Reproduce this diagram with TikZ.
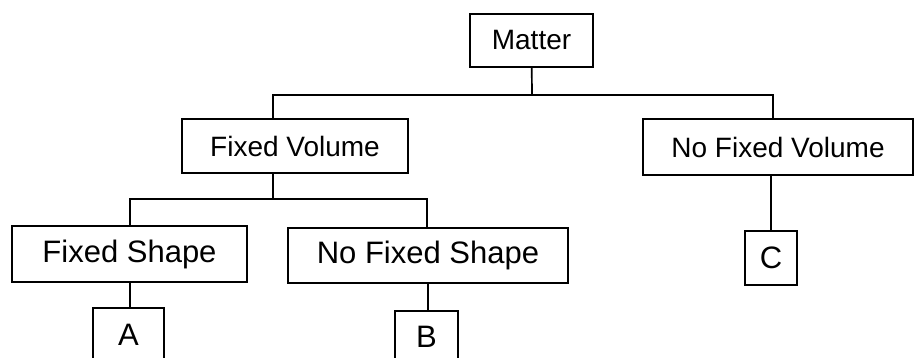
\documentclass[tikz,border=0pt]{standalone}
\usepackage{fontspec}
\setmainfont{Liberation Sans}
\tikzset{
    box/.style={draw, line width=1.7pt, inner sep=0pt, align=center},
    upper/.style={font=\fontsize{28}{32}\selectfont},
    lower/.style={font=\fontsize{31}{36}\selectfont}
}
\begin{document}
\begin{tikzpicture}[x=1pt,y=-1pt,line width=1.7pt]
    \clip (0,0) rectangle (914,358);%裁出与原图相同的边界
    \node[box,upper,minimum width=123pt,minimum height=53pt] (matter) at (531.5,40.5) {Matter};
    \node[box,upper,minimum width=226pt,minimum height=54pt] (fixvol) at (295,146) {Fixed Volume};
    \node[box,upper,minimum width=270pt,minimum height=56pt] (nofixvol) at (778,147) {No Fixed Volume};
    \node[box,lower,minimum width=235pt,minimum height=56pt] (fixshape) at (129.5,254) {Fixed Shape};
    \node[box,lower,minimum width=280pt,minimum height=55pt] (nofixshape) at (428,255.5) {No Fixed Shape};
    \node[box,lower,minimum width=71pt,minimum height=54pt] (A) at (128.5,335) {A};%下边框在图外
    \node[box,lower,minimum width=63pt,minimum height=52pt] (B) at (426.5,337) {B};
    \node[box,lower,minimum width=52pt,minimum height=54pt] (C) at (771,258) {C};
    \coordinate (jm) at (532,95);
    \coordinate (jv) at (273,199);
    \draw (matter) -- (jm);%第一层分支
    \draw ([xshift=-22pt]fixvol.north) |- (jm) -| ([xshift=-5pt]nofixvol.north);
    \draw ([xshift=-22pt]fixvol.south) -- (jv);%第二层分支
    \draw ([xshift=0.5pt]fixshape.north) |- (jv) -| ([xshift=-1pt]nofixshape.north);
    \draw ([xshift=0.5pt]fixshape.south) -- ([xshift=0.5pt]fixshape.south |- A.north);
    \draw (B.north -| nofixshape.south) -- (nofixshape.south);
    \draw (C.north) -- (C.north |- nofixvol.south);
\end{tikzpicture}
\end{document}
